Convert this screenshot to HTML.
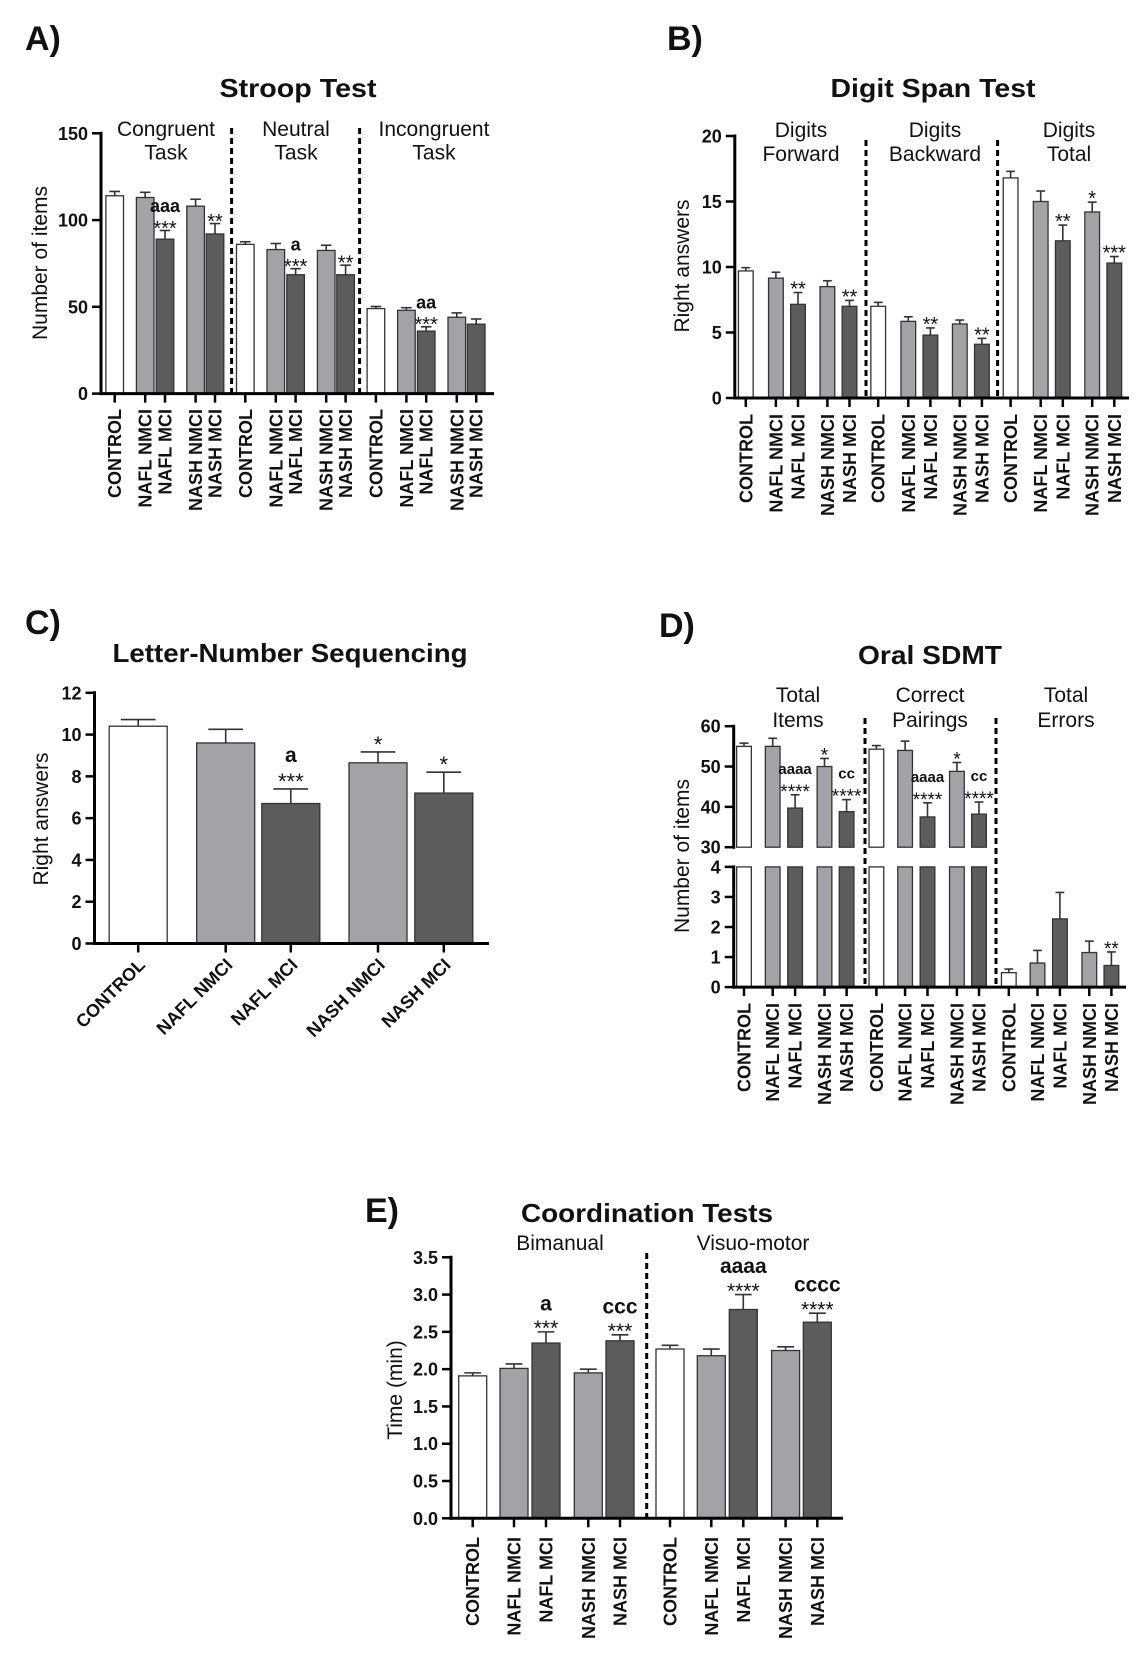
<!DOCTYPE html>
<html><head><meta charset="utf-8"><style>
html,body{margin:0;padding:0;background:#fff;}
svg{display:block;font-family:"Liberation Sans",Arial,sans-serif;}
</style></head><body>
<svg id="fig" width="1146" height="1661" viewBox="0 0 1146 1661" xmlns="http://www.w3.org/2000/svg"></svg>
<script>
// ---------- DATA ----------
const groupCats = ['CONTROL','NAFL NMCI','NAFL MCI','NASH NMCI','NASH MCI'];
// A) Stroop
const stroopValues = [114,113,89,108,92, 86,83,68.5,82.5,68.5, 49,48,36,44,40];
const stroopErrors = [116.5,116,94,112,98, 87.5,86.5,72,85.5,74, 50.2,49.5,38.5,46.5,43];
const stroopStars = ['','','***','','**', '','','***','','**', '','','***','',''];
const stroopLetters = ['','','aaa','','', '','','a','','', '','','aa','',''];
const stroopTicks = [0,50,100,150];
const stroopGroups = [['Congruent','Task'],['Neutral','Task'],['Incongruent','Task']];
// B) Digit span
const digitValues = [9.7,9.15,7.15,8.5,7.0, 7.0,5.85,4.8,5.65,4.1, 16.8,15.0,12.0,14.2,10.3];
const digitErrors = [9.95,9.6,8.05,8.95,7.45, 7.3,6.2,5.35,5.95,4.55, 17.3,15.8,13.2,14.95,10.8];
const digitStars = ['','','**','','**', '','','**','','**', '','','**','*','***'];
const digitTicks = [0,5,10,15,20];
const digitGroups = [['Digits','Forward'],['Digits','Backward'],['Digits','Total']];
// C) Letter-number
const lnsValues = [10.4,9.6,6.7,8.65,7.2];
const lnsErrors = [10.72,10.25,7.4,9.17,8.2];
const lnsStars = ['','','***','*','*'];
const lnsLetters = ['','','a','',''];
const lnsTicks = [0,2,4,6,8,10,12];
// D) Oral SDMT
const sdmtValues = [55,55,39.7,50,38.8, 54.3,54,37.5,48.8,38.2, 0.48,0.8,2.27,1.15,0.72];
const sdmtErrors = [55.8,57,43,52,41.8, 55.2,56.3,41,51,41.2, 0.6,1.22,3.15,1.53,1.17];
const sdmtStars = ['','','****','*','****', '','','****','*','****', '','','','','**'];
const sdmtLetters = ['','','aaaa','','cc', '','','aaaa','','cc', '','','','',''];
const sdmtUpperTicks = [30,40,50,60];
const sdmtLowerTicks = [0,1,2,3,4];
const sdmtGroups = [['Total','Items'],['Correct','Pairings'],['Total','Errors']];
// E) Coordination
const coordValues = [1.91,2.01,2.35,1.95,2.38, 2.27,2.18,2.8,2.25,2.63];
const coordErrors = [1.95,2.07,2.5,2.0,2.46, 2.32,2.27,3.0,2.3,2.75];
const coordStars = ['','','***','','***', '','','****','','****'];
const coordLetters = ['','','a','','ccc', '','','aaaa','','cccc'];
const coordTicks = [0,0.5,1,1.5,2,2.5,3,3.5];
const coordGroups = ['Bimanual','Visuo-motor'];

// ---------- DRAW ----------
const NS='http://www.w3.org/2000/svg';
const svg=document.getElementById('fig');
function mk(tag, attrs){const e=document.createElementNS(NS,tag);for(const k in attrs)e.setAttribute(k,attrs[k]);svg.appendChild(e);return e;}
function fillFor(name){ if(name==='CONTROL')return '#ffffff'; if(name.indexOf('NMCI')>=0)return '#a3a3a7'; return '#5c5c5c'; }
function txt(x,y,s,opt){const t=mk('text',Object.assign({x:x,y:y,'font-size':17,'font-weight':'bold','text-anchor':'middle',fill:'#111'},opt||{}));t.textContent=s;return t;}

function panel(p){
  const n=p.values.length;
  const xs=[];
  for(let i=0;i<n;i++){const g=Math.floor(i/5), k=i%5; xs.push(p.x0+g*p.gstep+p.offs[k]);}
  for(let i=0;i<n;i++){
    const name=groupCats[i%5];
    const v=p.values[i], e=p.errors[i];
    const yv=p.y(v), ye=p.y(e);
    const ln=mk('line',{x1:xs[i],x2:xs[i],y1:yv,y2:ye,stroke:'#333','stroke-width':1.6});
    
    
    const cp=mk('line',{x1:xs[i]-p.w*0.3,x2:xs[i]+p.w*0.3,y1:ye,y2:ye,stroke:'#333','stroke-width':1.6});
    
    
    if(p.broken && v>=30){
      const r1=mk('rect',{x:xs[i]-p.w/2,y:p.brkLow,width:p.w,height:p.y0-p.brkLow,fill:fillFor(name),stroke:'#333','stroke-width':1.3});
      
      
      const r2=mk('rect',{x:xs[i]-p.w/2,y:yv,width:p.w,height:p.brkHigh-yv,fill:fillFor(name),stroke:'#333','stroke-width':1.3});
      
      
    } else {
      const r=mk('rect',{x:xs[i]-p.w/2,y:yv,width:p.w,height:p.y0-yv,fill:fillFor(name),stroke:'#333','stroke-width':1.3});
      
      
    }
    if(p.stars && p.stars[i]){
      const t=txt(xs[i],ye-p.starGap+0.58*p.starFs,p.stars[i],{'font-size':p.starFs,'font-weight':'normal'});
      
      
    }
    if(p.letters && p.letters[i]){
      const t=txt(xs[i],ye-p.letGap+0.26*p.letFs,p.letters[i],{'font-size':p.letFs});
      
      
    }
    const tk=mk('line',{x1:xs[i],x2:xs[i],y1:p.y0,y2:p.y0+9,stroke:'#000','stroke-width':2.5});
    
    
    let lb;
    if(p.diag){
      lb=txt(xs[i]+8,p.labelTop,name,{'text-anchor':'end','font-size':18,transform:'rotate(-45 '+(xs[i]+8)+' '+p.labelTop+')'});
    } else {
      const lx=xs[i]+0.36*18;
      lb=txt(lx,p.labelTop,name,{'text-anchor':'end','font-size':18,transform:'rotate(-90 '+lx+' '+p.labelTop+')'});
    }
    
    
  }
  const xa=mk('line',{x1:p.axisX-1,x2:p.axisRight,y1:p.y0,y2:p.y0,stroke:'#000','stroke-width':3});
  
  
  const segs=p.broken?[[p.brkLow,p.y0],[p.y(p.ticksHigh[p.ticksHigh.length-1]),p.brkHigh]]:[[p.y(p.ticks[p.ticks.length-1]),p.y0]];
  segs.forEach(s=>{
    const ya=mk('line',{x1:p.axisX,x2:p.axisX,y1:s[0]-1.5,y2:s[1]+1.5,stroke:'#000','stroke-width':3});
    
    
  });
  const allTicks=p.broken?p.ticks.concat(p.ticksHigh):p.ticks;
  allTicks.forEach(t=>{
    const yy=p.y(t);
    const tl=mk('line',{x1:p.axisX-9,x2:p.axisX,y1:yy,y2:yy,stroke:'#000','stroke-width':2.5});
    
    
    const lab=txt(p.axisX-13,yy+6.5,p.fmt?p.fmt(t):String(t),{'text-anchor':'end','font-size':18});
    
    
  });
  const yt=txt(p.ytX,p.ytY,p.ytitle,{'font-size':21,'font-weight':'normal',transform:'rotate(-90 '+p.ytX+' '+p.ytY+')'});
  
  
  const tt=txt(p.titleX,p.titleY,p.title,{'font-size':26,textLength:p.titleLen,lengthAdjust:'spacingAndGlyphs'});
  
  
  const pl=txt(p.letterX,p.letterY,p.letter,{'font-size':34,'text-anchor':'start'});
  
  
  (p.dashes||[]).forEach(d=>{
    const dl=mk('line',{x1:d[0],x2:d[0],y1:d[1],y2:p.y0,stroke:'#000','stroke-width':3,'stroke-dasharray':'6 4'});
    
    
  });
  (p.groups||[]).forEach((g,gi)=>{
    const lines=Array.isArray(g)?g:[g];
    lines.forEach((s,li)=>{
      const gt=txt(p.groupX[gi],p.groupY+li*p.groupDy,s,{'font-size':21,'font-weight':'normal'});
      
      
    });
  });
}

// A
panel({values:stroopValues,errors:stroopErrors,stars:stroopStars,letters:stroopLetters,ticks:stroopTicks,
  x0:114.7,gstep:130.6,offs:[0,30.5,50.3,80.9,100.3],w:17.6,
  y:v=>393.6-v*(393.6-133.3)/150,y0:393.6,axisX:101,axisRight:494,labelTop:409,
  starGap:7.2,starFs:20,letGap:23,letFs:18,
  ytitle:'Number of items',ytX:47,ytY:263,title:'Stroop Test',titleX:298,titleY:97,titleLen:157,
  letter:'A)',letterX:25,letterY:50,dashes:[[231.6,128],[359.6,128]],
  groups:stroopGroups,groupX:[166,296,434],groupY:136,groupDy:23.5});
// B
panel({values:digitValues,errors:digitErrors,stars:digitStars,ticks:digitTicks,
  x0:745.8,gstep:132.4,offs:[0,30.1,52.2,81.6,103.7],w:14.7,
  y:v=>398-v*(398-136)/20,y0:398,axisX:734.8,axisRight:1129,labelTop:414,
  starGap:8.7,starFs:20,
  ytitle:'Right answers',ytX:689,ytY:266,title:'Digit Span Test',titleX:933,titleY:97,titleLen:205,
  letter:'B)',letterX:667,letterY:50,dashes:[[866,140],[997.6,140]],
  groups:digitGroups,groupX:[801,935,1069],groupY:137,groupDy:24});
// C
panel({values:lnsValues,errors:lnsErrors,stars:lnsStars,letters:lnsLetters,ticks:lnsTicks,
  x0:138.2,gstep:0,offs:[0,87.5,152.6,239.8,305.6],w:58,
  y:v=>943.5-v*(943.5-692.8)/12,y0:943.5,axisX:94.5,axisRight:489,labelTop:966,diag:true,
  starGap:12.7,starFs:22,letGap:32.6,letFs:21,
  ytitle:'Right answers',ytX:48,ytY:819,title:'Letter-Number Sequencing',titleX:290,titleY:662,titleLen:355,
  letter:'C)',letterX:25,letterY:634});
// D
panel({values:sdmtValues,errors:sdmtErrors,stars:sdmtStars,letters:sdmtLetters,ticks:sdmtLowerTicks,ticksHigh:sdmtUpperTicks,broken:true,brkLow:866.9,brkHigh:847.2,
  x0:744,gstep:132.4,offs:[0,28.7,51.1,80.5,102.6],w:14.7,
  y:v=>v>=30? 847.2-(v-30)*(847.2-726.2)/30 : 987.1-v*(987.1-866.9)/4,y0:987.1,axisX:733.7,axisRight:1126,labelTop:1003,
  starGap:8,starFs:19,letGap:24.8,letFs:15,
  ytitle:'Number of items',ytX:689,ytY:856,title:'Oral SDMT',titleX:930,titleY:664,titleLen:144,
  letter:'D)',letterX:659,letterY:637,dashes:[[865,718],[996,718]],
  groups:sdmtGroups,groupX:[798,930,1066],groupY:702,groupDy:25});
// E
panel({values:coordValues,errors:coordErrors,stars:coordStars,letters:coordLetters,ticks:coordTicks,fmt:t=>t.toFixed(1),
  x0:472.7,gstep:197.3,offs:[0,41.3,73.3,115.6,147.3],w:28,
  y:v=>1518.3-v*(1518.3-1257.3)/3.5,y0:1518.3,axisX:451,axisRight:843,labelTop:1537,
  starGap:9,starFs:21,letGap:27,letFs:21,
  ytitle:'Time (min)',ytX:402,ytY:1390,title:'Coordination Tests',titleX:647,titleY:1222,titleLen:252,
  letter:'E)',letterX:365,letterY:1222,dashes:[[646.7,1253]],
  groups:coordGroups,groupX:[560,753],groupY:1250,groupDy:24});
</script>
</body></html>
